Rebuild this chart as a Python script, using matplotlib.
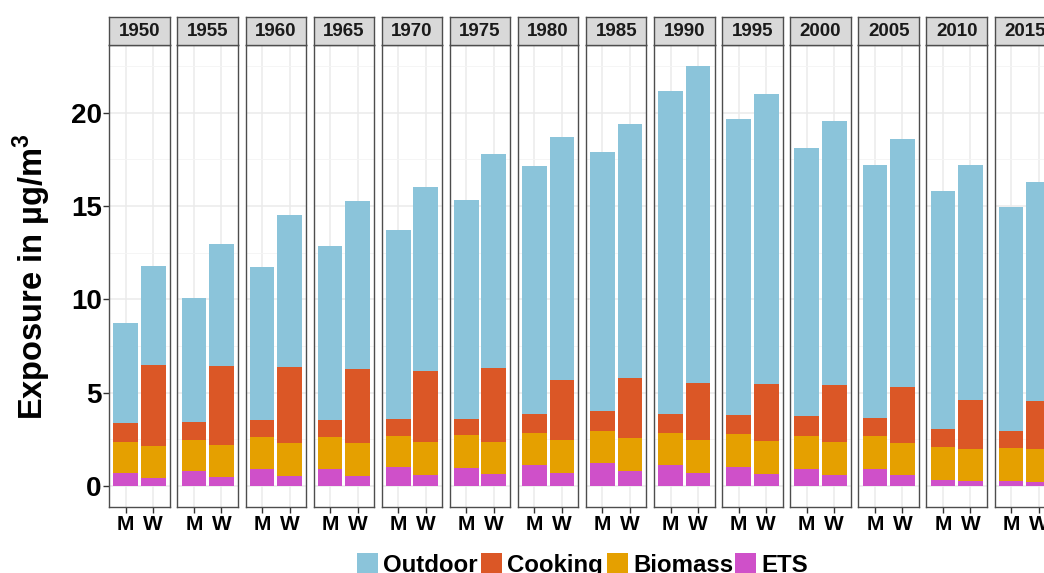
import numpy as np
import matplotlib
matplotlib.use("Agg")
import matplotlib.pyplot as plt
from matplotlib.patches import Rectangle

plt.rcParams['font.family'] = ['Liberation Sans', 'DejaVu Sans']
plt.rcParams['mathtext.fontset'] = 'custom'
plt.rcParams['mathtext.bf'] = 'Liberation Sans:bold'
plt.rcParams['mathtext.rm'] = 'Liberation Sans'

years = ['1950', '1955', '1960', '1965', '1970', '1975', '1980',
         '1985', '1990', '1995', '2000', '2005', '2010', '2015']
sexes = ['M', 'W']
sources = ['ETS', 'Biomass', 'Cooking', 'Outdoor']
legend_order = ['Outdoor', 'Cooking', 'Biomass', 'ETS']
colors = {'Outdoor': '#8BC4DA', 'Cooking': '#DB5726',
          'Biomass': '#E5A000', 'ETS': '#CF50C9'}

# cumulative tops, per year: [M, W]
ets_top = [[0.71, 0.43], [0.82, 0.48], [0.89, 0.54], [0.93, 0.56], [1.00, 0.61],
           [0.98, 0.66], [1.11, 0.71], [1.22, 0.79], [1.11, 0.70], [1.02, 0.66],
           [0.91, 0.60], [0.91, 0.57], [0.32, 0.25], [0.29, 0.23]]
bio_top = [[2.38, 2.13], [2.48, 2.18], [2.61, 2.31], [2.65, 2.29], [2.70, 2.34],
           [2.72, 2.38], [2.84, 2.47], [2.97, 2.57], [2.86, 2.47], [2.79, 2.41],
           [2.68, 2.38], [2.66, 2.32], [2.07, 2.00], [2.04, 1.98]]
cook_top = [[3.36, 6.50], [3.45, 6.43], [3.54, 6.40], [3.56, 6.27], [3.59, 6.17],
            [3.61, 6.33], [3.86, 5.68], [4.00, 5.77], [3.88, 5.54], [3.79, 5.49],
            [3.74, 5.40], [3.65, 5.31], [3.04, 4.63], [2.97, 4.56]]
total = [[8.72, 11.76], [10.06, 12.95], [11.73, 14.50], [12.87, 15.28], [13.71, 16.00],
         [15.30, 17.76], [17.14, 18.71], [17.91, 19.39], [21.18, 22.50], [19.64, 21.02],
         [18.12, 19.55], [17.21, 18.57], [15.82, 17.19], [14.96, 16.28]]

ets = np.array(ets_top)
biomass = np.array(bio_top) - ets
cooking = np.array(cook_top) - np.array(bio_top)
outdoor = np.array(total) - np.array(cook_top)
layers = {'ETS': ets, 'Biomass': biomass, 'Cooking': cooking, 'Outdoor': outdoor}

W, H = 1044, 573
fig = plt.figure(figsize=(W / 100, H / 100), dpi=100)

def fbox(x0, y0, x1, y1):
    # pixel box -> figure fraction rect
    return [x0 / W, 1 - y1 / H, (x1 - x0) / W, (y1 - y0) / H]

border = '#4D4D4D'
left0, step, pw = 109.3, 68.1, 60.5
x = np.arange(1, 3)

for i, yr in enumerate(years):
    l = left0 + i * step
    ax = fig.add_axes(fbox(l, 45, l + pw, 507))
    bottom = np.zeros(2)
    for s in sources:
        v = layers[s][i]
        ax.bar(x, v, width=0.9, bottom=bottom, color=colors[s], linewidth=0, zorder=3)
        bottom = bottom + v
    ax.set_xlim(0.4, 2.6)
    ax.set_ylim(-1.125, 23.625)
    ax.set_yticks([0, 5, 10, 15, 20])
    ax.set_yticks([2.5, 7.5, 12.5, 17.5, 22.5], minor=True)
    ax.set_xticks(x)
    ax.set_xticklabels(sexes, fontsize=15, fontweight='bold')
    ax.grid(True, which='major', color='#EBEBEB', linewidth=1.1, zorder=0)
    ax.grid(True, which='minor', axis='y', color='#F4F4F4', linewidth=0.6, zorder=0)
    ax.tick_params(axis='x', length=4, width=1, color='#333333', pad=2)
    ax.tick_params(axis='y', which='minor', length=0)
    if i == 0:
        ax.set_yticklabels(['0', '5', '10', '15', '20'], fontsize=20, fontweight='bold')
        ax.tick_params(axis='y', length=4, width=1, color='#333333', pad=1.5)
    else:
        ax.tick_params(axis='y', which='both', length=0, labelleft=False)
    for sp in ax.spines.values():
        sp.set_color(border)
        sp.set_linewidth(1)

    st = fig.add_axes(fbox(l, 17, l + pw, 45))
    st.set_facecolor('#D9D9D9')
    st.set_xticks([])
    st.set_yticks([])
    for sp in st.spines.values():
        sp.set_color(border)
        sp.set_linewidth(1)
    st.text(0.5, 0.47, yr, ha='center', va='center', fontsize=13.5,
            fontweight='bold', color='#1A1A1A', transform=st.transAxes)

fig.text(32 / W, 1 - 277 / H, r'Exposure in µg/m$^{\mathbf{3}}$', rotation=90,
         ha='center', va='center', fontsize=23.5, fontweight='bold')

# legend at the bottom, drawn by hand so all labels share one baseline
key_x = [357, 481, 607, 735]
for kx, s in zip(key_x, legend_order):
    fig.patches.append(Rectangle((kx / W, 1 - 574 / H), 21 / W, 21 / H,
                                 transform=fig.transFigure, facecolor=colors[s],
                                 edgecolor='none'))
    fig.text((kx + 26) / W, 1 - 572 / H, s, ha='left', va='baseline',
             fontsize=17.3, fontweight='bold')

fig.savefig('out.png', dpi=100)
